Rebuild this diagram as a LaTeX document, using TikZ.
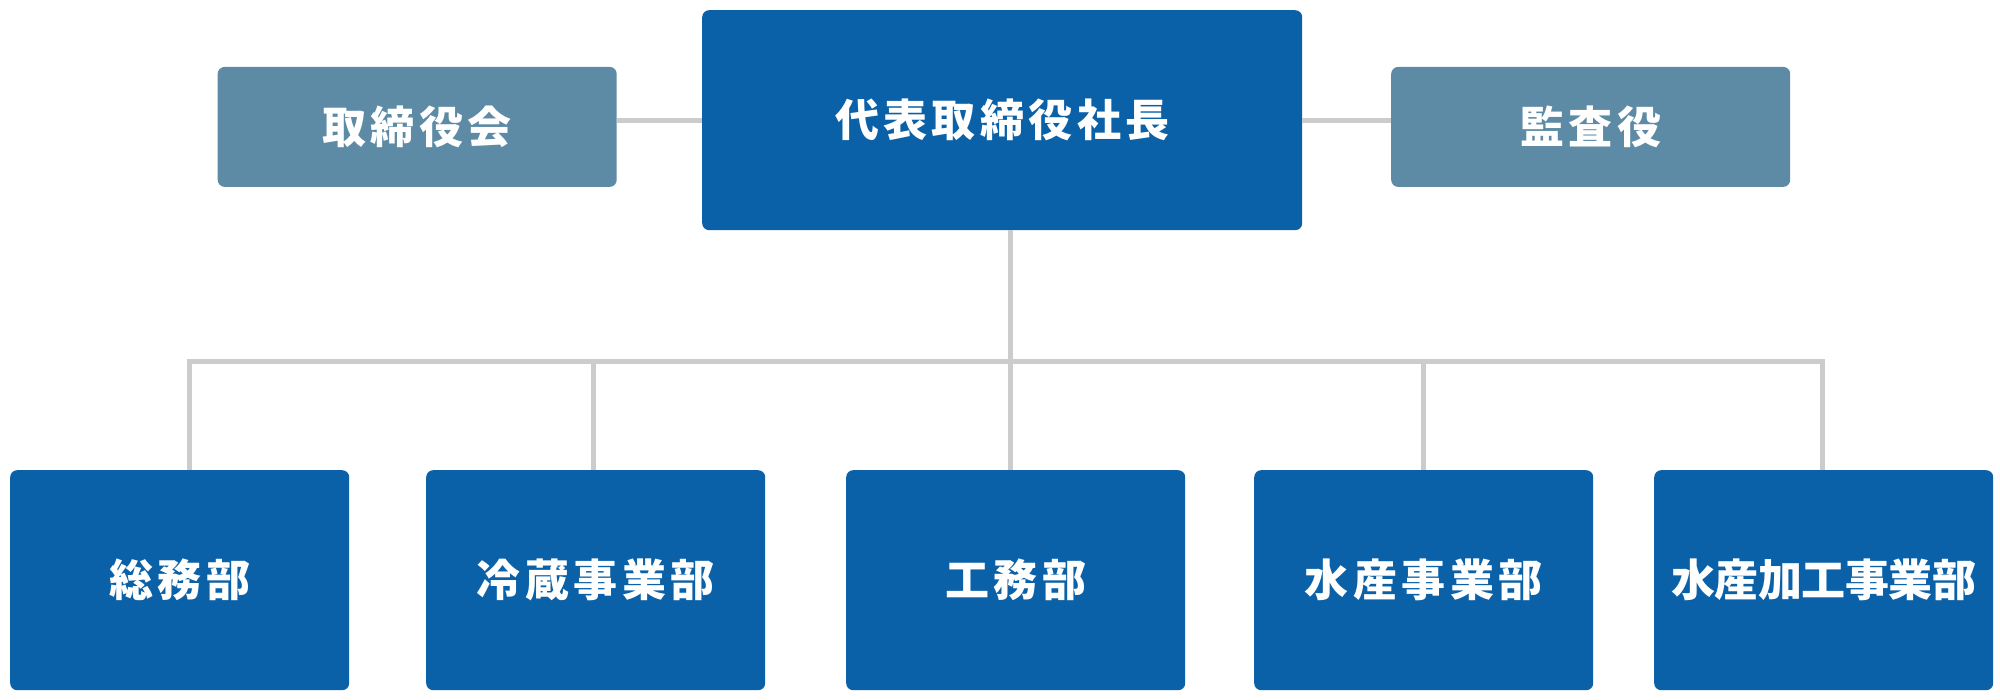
\documentclass[tikz,border=0pt]{standalone}
\usepackage{fontspec}
\newfontfamily\jp{Noto Sans CJK JP}[LetterSpace=10]
\newfontfamily\jptight{Noto Sans CJK JP}[LetterSpace=-1]
\definecolor{deptblue}{RGB}{11,97,168}
\definecolor{sideblue}{RGB}{93,139,165}
\definecolor{linegray}{RGB}{204,204,204}
\begin{document}
\begin{tikzpicture}[x=1pt,y=-1pt,
  box/.style={rounded corners=7pt, inner sep=0pt, text=white, anchor=north west,
    font=\jp\bfseries\fontsize{44}{52}\selectfont},
  mainbox/.style={box, fill=deptblue},
  sidebox/.style={box, fill=sideblue, minimum width=399pt, minimum height=120pt},
  deptbox/.style={mainbox, minimum width=339pt, minimum height=220pt},
  tighttext/.style={font=\jptight\bfseries\fontsize{44}{52}\selectfont},
  conn/.style={draw=linegray, line width=5pt}]
\useasboundingbox (0,0) rectangle (2000,700);
% top row
\node[mainbox, minimum width=600pt, minimum height=220pt] (ceo) at (702,10) {代表取締役社長};
\node[sidebox] (board) at (217.5,66.7) {取締役会};
\node[sidebox] (audit) at (1391,66.7) {監査役};
% departments
\node[deptbox] (d1) at (10,470) {総務部};
\node[deptbox] (d2) at (426,470) {冷蔵事業部};
\node[deptbox] (d3) at (846,470) {工務部};
\node[deptbox] (d4) at (1254,470) {水産事業部};
\node[deptbox, tighttext] (d5) at (1654,470) {水産加工事業部};
% bus taps
\coordinate (t1) at (189,362);
\coordinate (t2) at (593,362);
\coordinate (t3) at (1010,362);
\coordinate (t4) at (1423,362);
\coordinate (t5) at (1822,362);
% connectors
\draw[conn] (ceo.west) -- (ceo.west -| board.east);
\draw[conn] (ceo.east) -- (ceo.east -| audit.west);
\draw[conn] (ceo.south -| t3) -- (t3);
\draw[conn] (d1.north -| t1) -- (t1) -- (t5) -- (t5 |- d5.north);
\draw[conn] (t2) -- (t2 |- d2.north);
\draw[conn] (t3) -- (t3 |- d3.north);
\draw[conn] (t4) -- (t4 |- d4.north);
\end{tikzpicture}
\end{document}
